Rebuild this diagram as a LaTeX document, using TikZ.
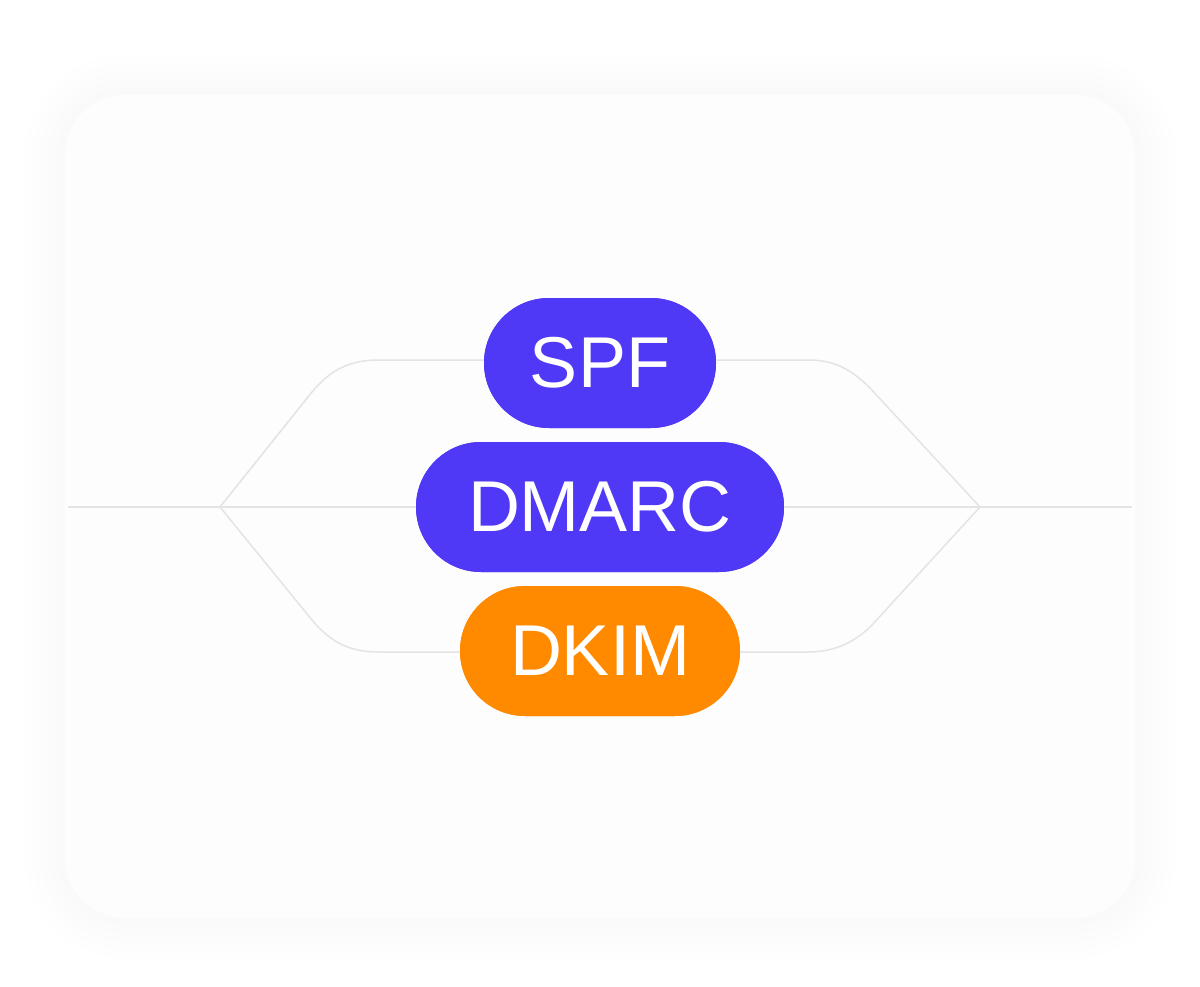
\documentclass[tikz,border=0pt]{standalone}
\usepackage{fontspec}
\setmainfont{Liberation Sans}
\definecolor{pblue}{HTML}{4F38F6}
\definecolor{porange}{HTML}{FF8A00}
\definecolor{lgray}{HTML}{E4E4E4}
\definecolor{cardc}{HTML}{FDFDFD}
\begin{document}
\begin{tikzpicture}[x=1pt,y=-1pt,
  pill/.style={rounded corners=65pt,minimum height=130pt,text=white,font=\fontsize{72}{72}\selectfont,inner sep=0pt},
  wire/.style={draw=lgray,line width=1.5pt}]
\useasboundingbox (0,0) rectangle (1200,987);
\fill[white] (0,0) rectangle (1200,987);
\foreach \r in {40,32,24,16,8}
  \fill[black,opacity=0.003,rounded corners=60pt+\r pt] (65-\r,95-\r) rectangle (1135+\r,918+\r);
\node[fill=cardc,rounded corners=60pt,minimum width=1070pt,minimum height=823pt,inner sep=0pt] (card) at (600,506.5) {};
\coordinate (L0) at (68,507);
\coordinate (R0) at (1132,507);
\coordinate (JL) at (220,507);
\coordinate (JR) at (980,507);
\node[pill,fill=pblue,minimum width=232pt] (spf) at (600,363) {SPF};
\node[pill,fill=pblue,minimum width=368pt] (dmarc) at (600,507) {DMARC};
\node[pill,fill=porange,minimum width=280pt] (dkim) at (600,651) {DKIM};
\draw[wire] (L0) -- (JL) -- (dmarc.west);
\draw[wire] (dmarc.east) -- (JR) -- (R0);
\draw[wire] (JL) -- (312,392) .. controls (330,370) and (350,360) .. (378,360) -- (spf.west |- 0,360);
\draw[wire] (spf.east |- 0,360) -- (808,360) .. controls (835,360) and (852,370) .. (870,388) -- (JR);
\draw[wire] (JL) -- (312,620) .. controls (330,642) and (350,652) .. (378,652) -- (dkim.west |- 0,652);
\draw[wire] (dkim.east |- 0,652) -- (808,652) .. controls (835,652) and (855,642) .. (872,625) -- (JR);
\node[pill,fill=pblue,minimum width=232pt] at (spf) {SPF};
\node[pill,fill=pblue,minimum width=368pt] at (dmarc) {DMARC};
\node[pill,fill=porange,minimum width=280pt] at (dkim) {DKIM};
\end{tikzpicture}
\end{document}
